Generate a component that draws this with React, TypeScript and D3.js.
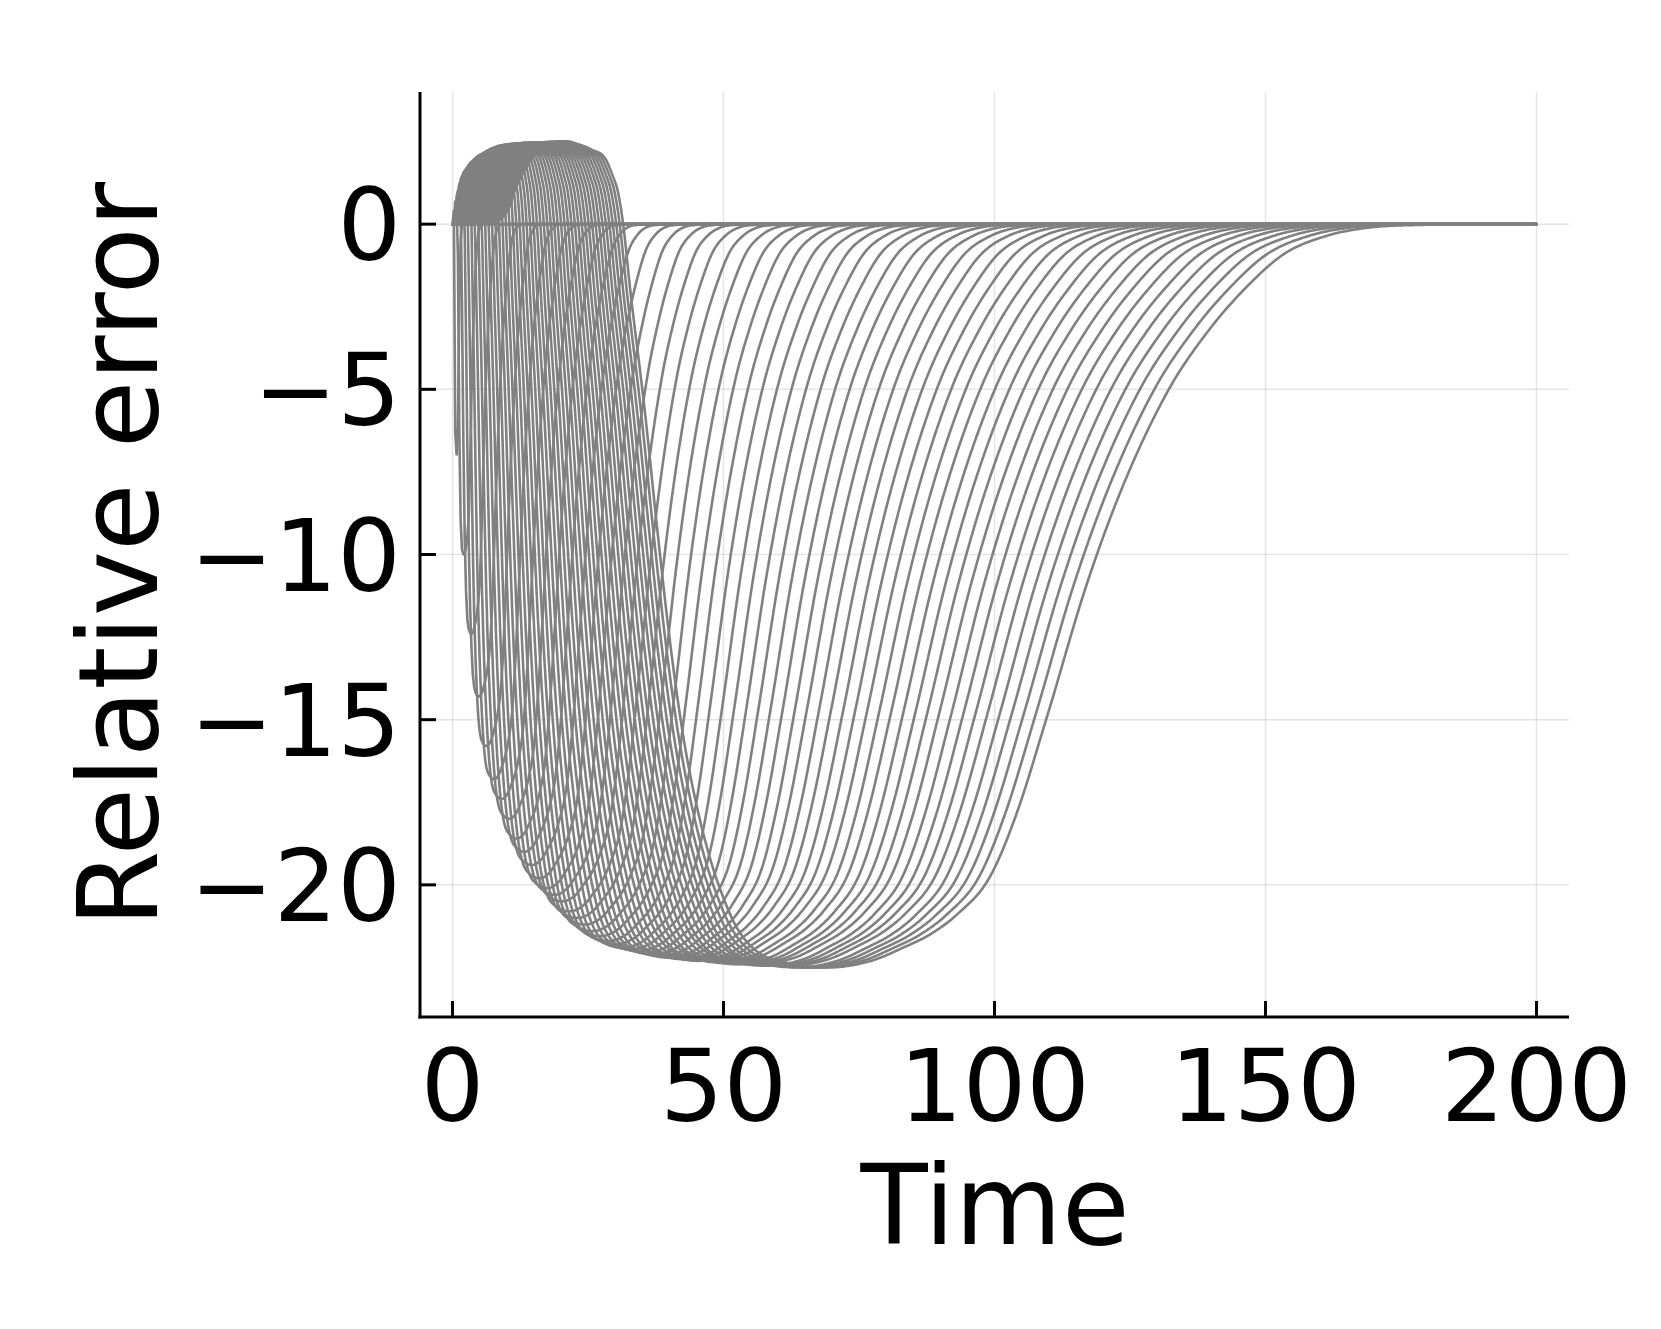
import React, { useMemo } from "react";
import * as d3 from "d3";

// ---- data ----
const xTicks = [0, 50, 100, 150, 200];
const yTicks = [0, -5, -10, -15, -20];
const xTitle = "Time";
const yTitle = "Relative error";

// time-scale of each curve relative to the slowest (rightmost) one
const curveScale = [
  0.01, 0.03, 0.05, 0.07, 0.09, 0.11, 0.13, 0.15, 0.17, 0.19,
  0.21, 0.23, 0.25, 0.27, 0.29, 0.31, 0.33, 0.35, 0.37, 0.39,
  0.41, 0.43, 0.45, 0.47, 0.49, 0.51, 0.53, 0.55, 0.57, 0.59,
  0.61, 0.63, 0.65, 0.67, 0.69, 0.71, 0.73, 0.75, 0.77, 0.79,
  0.81, 0.83, 0.85, 0.87, 0.89, 0.91, 0.93, 0.95, 0.97, 0.99,
];
// deepest value of each curve
const curveDepth = [
  -7.0, -10.0, -12.4, -14.3, -15.8, -16.8, -17.4, -18.0, -18.6, -19.0,
  -19.4, -19.8, -20.1, -20.3, -20.5, -20.8, -21.0, -21.2, -21.4, -21.55,
  -21.7, -21.8, -21.9, -21.95, -22.0, -22.05, -22.1, -22.15, -22.2, -22.2,
  -22.25, -22.25, -22.3, -22.3, -22.3, -22.35, -22.35, -22.4, -22.4, -22.4,
  -22.4, -22.45, -22.45, -22.45, -22.45, -22.5, -22.5, -22.5, -22.5, -22.5,
];
// height of the early positive hump of each curve
const curvePeak = [
  0.43, 0.74, 1.02, 1.27, 1.47, 1.61, 1.7, 1.79, 1.88, 1.94,
  2.0, 2.06, 2.11, 2.14, 2.17, 2.22, 2.25, 2.29, 2.32, 2.34,
  2.37, 2.39, 2.4, 2.41, 2.42, 2.43, 2.43, 2.44, 2.45, 2.45,
  2.46, 2.46, 2.47, 2.47, 2.47, 2.48, 2.48, 2.48, 2.48, 2.48,
  2.48, 2.49, 2.49, 2.49, 2.49, 2.5, 2.5, 2.5, 2.5, 2.5,
];
// profile of the slowest curve (time, relative error)
const profileTime = [
  0, 6, 8.7, 10.5, 11.8, 13.3, 14.8, 16.6, 19, 21.5, 23.4, 26, 28.4, 30, 30.8,
  31.8, 33.2, 35.8, 38.2, 40.5, 43, 45.5, 48, 50.5, 53, 56.6, 62, 70, 78, 84,
  89, 94, 100, 105, 111, 118, 125, 133.5, 141, 148, 155, 163, 171, 181, 190, 200,
];
const profileValue = [
  0, 0.02, 0.12, 0.5, 1.1, 1.6, 2.0, 2.3, 2.45, 2.5, 2.42, 2.25, 2.0, 1.4, 1.0,
  0, -2.1, -5.6, -9.3, -12.6, -15.5, -17.6, -19.2, -20.4, -21.3, -22.0, -22.35, -22.5, -22.3, -21.9,
  -21.5, -20.9, -19.8, -17.9, -14.8, -11, -7.9, -5, -3.2, -1.9, -0.9, -0.35, -0.1, -0.02, 0, 0,
];
const PROFILE_PEAK = 2.5;
const PROFILE_DEPTH = -22.5;
const T_END = 200;

// ---- layout ----
const W = 1661;
const H = 1329;
const left = 420;
const right = 1569;
const top = 92;
const bottom = 1017;
const FONT = "'DejaVu Sans', sans-serif";

function monotoneInterpolator(xs: number[], ys: number[]) {
  const n = xs.length;
  const d: number[] = [];
  for (let k = 0; k < n - 1; k++) d.push((ys[k + 1] - ys[k]) / (xs[k + 1] - xs[k]));
  const m: number[] = new Array(n).fill(0);
  m[0] = d[0];
  m[n - 1] = d[n - 2];
  for (let k = 1; k < n - 1; k++) m[k] = d[k - 1] * d[k] <= 0 ? 0 : (d[k - 1] + d[k]) / 2;
  for (let k = 0; k < n - 1; k++) {
    if (d[k] === 0) {
      m[k] = 0;
      m[k + 1] = 0;
      continue;
    }
    const a = m[k] / d[k];
    const b = m[k + 1] / d[k];
    const s = a * a + b * b;
    if (s > 9) {
      const t = 3 / Math.sqrt(s);
      m[k] = t * a * d[k];
      m[k + 1] = t * b * d[k];
    }
  }
  return (x: number) => {
    if (x <= xs[0]) return ys[0];
    if (x >= xs[n - 1]) return ys[n - 1];
    let k = d3.bisectRight(xs, x) - 1;
    if (k > n - 2) k = n - 2;
    const h = xs[k + 1] - xs[k];
    const t = (x - xs[k]) / h;
    const t2 = t * t;
    const t3 = t2 * t;
    return (
      (2 * t3 - 3 * t2 + 1) * ys[k] +
      (t3 - 2 * t2 + t) * h * m[k] +
      (-2 * t3 + 3 * t2) * ys[k + 1] +
      (t3 - t2) * h * m[k + 1]
    );
  };
}

export default function App() {
  const x = d3.scaleLinear().domain([-6, 206]).range([left, right]);
  const y = d3.scaleLinear().domain([-24, 4]).range([bottom, top]);

  const paths = useMemo(() => {
    const profile = monotoneInterpolator(profileTime, profileValue);
    const times = d3.range(0, T_END + 0.001, 0.25);
    const line = d3
      .line<[number, number]>()
      .x((p) => x(p[0]))
      .y((p) => y(p[1]));
    return curveScale.map((c, i) => {
      const pts: [number, number][] = times.map((t) => {
        const g = profile(t / c);
        const v = g > 0 ? (g * curvePeak[i]) / PROFILE_PEAK : (g * curveDepth[i]) / PROFILE_DEPTH;
        return [t, v];
      });
      return line(pts) as string;
    });
  }, []);

  return (
    <div style={{ position: "absolute", left: 0, top: 0 }}>
      <svg width={W} height={H} xmlns="http://www.w3.org/2000/svg" style={{ display: "block", background: "#fff" }}>
        <rect x={0} y={0} width={W} height={H} fill="#fff" />
        {/* grid */}
        <g stroke="#000" strokeOpacity={0.1} strokeWidth={1.5}>
          {xTicks.map((t) => (
            <line key={"gx" + t} x1={x(t)} x2={x(t)} y1={top} y2={bottom} />
          ))}
          {yTicks.map((t) => (
            <line key={"gy" + t} x1={left} x2={right} y1={y(t)} y2={y(t)} />
          ))}
        </g>
        {/* curves */}
        <g fill="none" stroke="#808080" strokeWidth={2.6} strokeLinejoin="round" strokeLinecap="round">
          {paths.map((d, i) => (
            <path key={i} d={d} />
          ))}
        </g>
        {/* axes */}
        <g stroke="#000" strokeWidth={3}>
          <line x1={left} x2={left} y1={top} y2={bottom + 1.5} />
          <line x1={left - 1.5} x2={right} y1={bottom} y2={bottom} />
          {xTicks.map((t) => (
            <line key={"tx" + t} x1={x(t)} x2={x(t)} y1={bottom} y2={bottom - 16} />
          ))}
          {yTicks.map((t) => (
            <line key={"ty" + t} x1={left} x2={left + 16} y1={y(t)} y2={y(t)} />
          ))}
        </g>
        {/* tick labels */}
        <g fontFamily={FONT} fontSize={100} fill="#000">
          {xTicks.map((t) => (
            <text key={"lx" + t} x={x(t)} y={1121} textAnchor="middle">
              {String(t)}
            </text>
          ))}
          {yTicks.map((t) => (
            <text key={"ly" + t} x={401} y={y(t) + 36} textAnchor="end">
              {t < 0 ? "\u2212" + Math.abs(t) : String(t)}
            </text>
          ))}
        </g>
        {/* axis titles */}
        <text x={995} y={1244} textAnchor="middle" fontFamily={FONT} fontSize={110} fill="#000">
          {xTitle}
        </text>
        <text
          transform={`translate(157,${(top + bottom) / 2}) rotate(-90)`}
          textAnchor="middle"
          fontFamily={FONT}
          fontSize={110}
          fill="#000"
        >
          {yTitle}
        </text>
      </svg>
    </div>
  );
}
